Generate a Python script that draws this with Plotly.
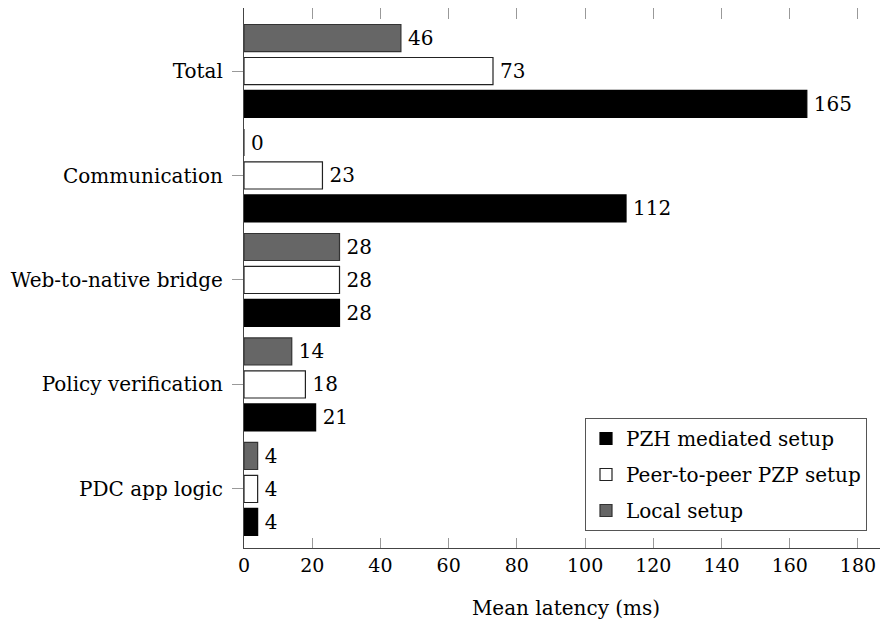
import plotly.graph_objects as go

categories = ["Total", "Communication", "Web-to-native bridge", "Policy verification", "PDC app logic"]
series_names = ["PZH mediated setup", "Peer-to-peer PZP setup", "Local setup"]
pzh_values = [165, 112, 28, 21, 4]
p2p_values = [73, 23, 28, 18, 4]
local_values = [46, 0, 28, 14, 4]
x_ticks = [0, 20, 40, 60, 80, 100, 120, 140, 160, 180]

FONT = "DejaVu Serif"
FS = 20
TFS = 19

styles = [
    dict(fill="#000000", edge="#000000"),
    dict(fill="#ffffff", edge="#222222"),
    dict(fill="#666666", edge="#333333"),
]

fig = go.Figure()
for i, (name, vals, st) in enumerate(zip(series_names, [pzh_values, p2p_values, local_values], styles)):
    fig.add_trace(go.Bar(
        y=categories, x=vals, name=name, orientation="h",
        legendgroup=f"g{i}",
        marker=dict(color=st["fill"], line=dict(color=st["edge"], width=1.2)),
        text=[str(v) for v in vals], texttemplate="\u2009%{text}", textposition="outside",
        textfont=dict(family=FONT, size=FS, color="#000000"),
        constraintext="none", cliponaxis=False,
    ))
# empty helper trace so the mirrored top tick axis is drawn
fig.add_trace(go.Scatter(x=[], y=[], xaxis="x2", showlegend=False, hoverinfo="skip"))

L, W = 236, 644
xr = [0, W / 3.411]
fig.update_layout(
    width=880, height=618,
    margin=dict(l=L, r=0, t=0, b=78),
    paper_bgcolor="white", plot_bgcolor="white",
    font=dict(family=FONT, size=FS, color="#000000"),
    barmode="group", bargap=0.053, bargroupgap=0.18,
    showlegend=True,
    legend=dict(
        x=(577 - L) / W, y=(540 - 410) / 540, xanchor="left", yanchor="top",
        bgcolor="white", bordercolor="#555555", borderwidth=1,
        font=dict(family=FONT, size=FS, color="#000000"),
        traceorder="grouped", tracegroupgap=7,
        entrywidth=290, entrywidthmode="pixels",
    ),
    xaxis=dict(
        range=xr, tickvals=x_ticks, ticktext=[str(t) for t in x_ticks],
        ticks="inside", ticklen=10, tickcolor="#999999", tickwidth=1.2,
        showline=True, linecolor="#444444", linewidth=1.2,
        showgrid=False, zeroline=False,
        title=dict(text="Mean latency (ms)", standoff=26, font=dict(family=FONT, size=FS)),
        tickfont=dict(family=FONT, size=TFS),
    ),
    xaxis2=dict(
        range=xr, overlaying="x", side="top", tickvals=x_ticks,
        ticks="inside", ticklen=11, tickcolor="#999999", tickwidth=1.2,
        showticklabels=False, showline=False, showgrid=False, zeroline=False,
    ),
    yaxis=dict(
        categoryorder="array", categoryarray=categories[::-1],
        range=[-0.565, 4.603],
        ticks="outside", ticklen=11, tickcolor="#999999", tickwidth=1.2,
        showline=True, linecolor="#444444", linewidth=1.2,
        showgrid=False, zeroline=False, ticklabelstandoff=5,
        tickfont=dict(family=FONT, size=FS),
    ),
)

fig.write_html("out.html")
